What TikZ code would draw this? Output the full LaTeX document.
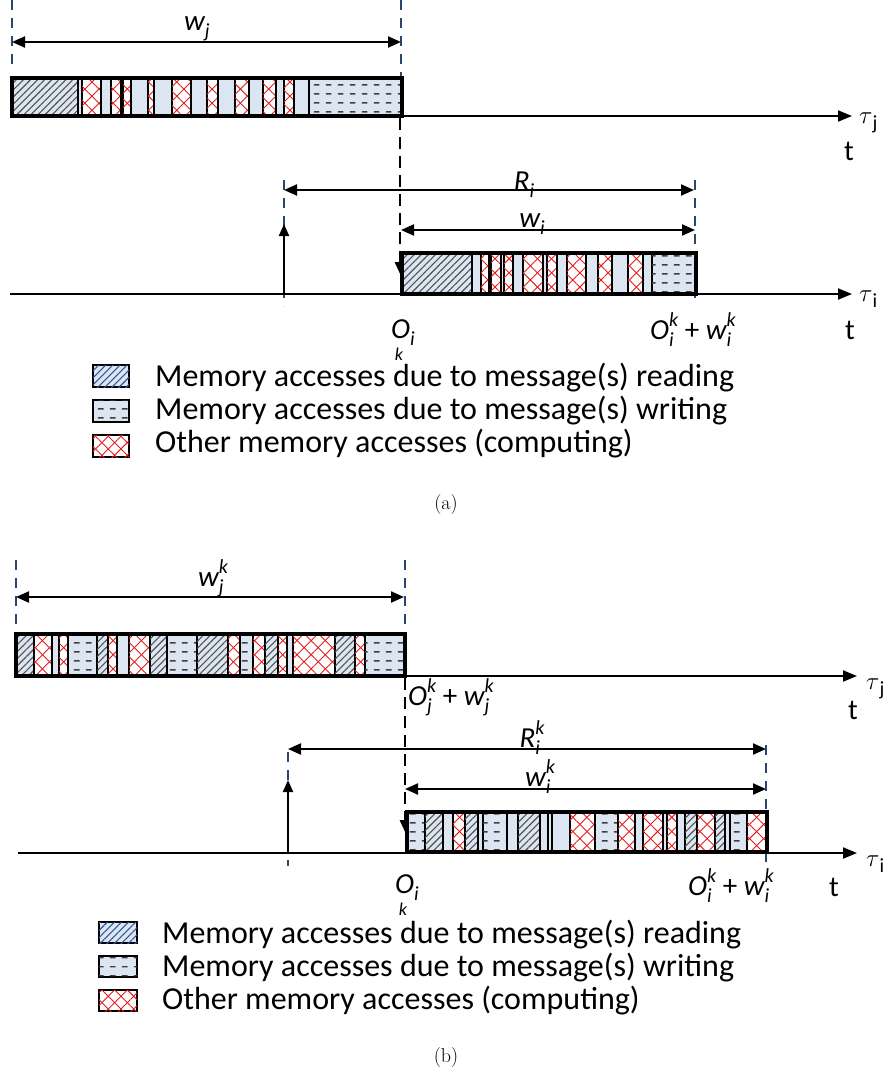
\documentclass[tikz,border=0pt]{standalone}
\usepackage{fontspec}
\newfontfamily\calib{Carlito}
\usetikzlibrary{arrows.meta,patterns,patterns.meta}
\definecolor{lb}{RGB}{220,230,242}
\definecolor{tickblue}{RGB}{40,70,110}
\definecolor{hatchgray}{RGB}{80,80,80}
\definecolor{hatchblue}{RGB}{47,85,151}
\definecolor{xred}{RGB}{225,30,30}
\tikzdeclarepattern{name=hdash, type=uncolored,
  bounding box={(0pt,0pt) and (12pt,9pt)}, tile size={(12pt,9pt)},
  code={\pgfsetlinewidth{1.5pt}\pgfpathmoveto{\pgfpoint{2pt}{4.5pt}}\pgfpathlineto{\pgfpoint{8pt}{4.5pt}}\pgfusepath{stroke}}}
\newcommand{\scr}{\fontsize{20}{20}\selectfont}
\newcommand{\sbsp}[3]{#1\makebox[0pt][l]{\raisebox{-0.26em}{\scr #3}}\raisebox{0.42em}{\scr #2}}
\newcommand{\sbonly}[2]{#1\raisebox{-0.26em}{\scr #2}}
\newcommand{\taulab}[1]{{\fontsize{32}{32}\selectfont$\tau$}\raisebox{-0.22em}{\scr #1}}
\newcommand{\membar}[3]{\foreach \a/\b/\t in {#3}{\draw[seg\t] (\a,#1) rectangle (\b,#2);}}
\tikzset{
  segB/.style={draw=black,line width=1.5pt,fill=lb},
  segR/.style={draw=black,line width=1.5pt,fill=lb,postaction={pattern={Lines[angle=45,distance=5pt,line width=1.1pt]},pattern color=hatchgray}},
  segW/.style={draw=black,line width=1.5pt,fill=lb,postaction={pattern=hdash,pattern color=black!75}},
  segO/.style={draw=black,line width=1.5pt,fill=white,postaction={pattern={Lines[angle=45,distance=10pt,line width=0.9pt]},pattern color=xred},postaction={pattern={Lines[angle=-45,distance=10pt,line width=0.9pt]},pattern color=xred}},
  legR/.style={draw=black,line width=1.8pt,fill=lb,postaction={pattern={Lines[angle=45,distance=5pt,line width=1.1pt]},pattern color=hatchblue}},
  legW/.style={draw=black,line width=1.8pt,fill=lb,postaction={pattern=hdash,pattern color=black!75}},
  legO/.style={draw=black,line width=1.8pt,fill=white,postaction={pattern={Lines[angle=45,distance=9pt,line width=0.9pt]},pattern color=xred},postaction={pattern={Lines[angle=-45,distance=9pt,line width=0.9pt]},pattern color=xred}},
  outer/.style={draw=black,line width=3.2pt},
  tick/.style={draw=tickblue,line width=1.8pt,dash pattern=on 10pt off 8pt},
  dline/.style={draw=black,line width=2.8pt,dash pattern=on 12pt off 7pt,-{Triangle[length=12pt,width=10pt]}},
  dim/.style={line width=2.2pt,{Triangle[length=13pt,width=11pt]}-{Triangle[length=13pt,width=11pt]}},
  axis/.style={line width=2pt,-{Triangle[length=14pt,width=11pt]}},
  uparr/.style={line width=2pt,-{Triangle[length=12pt,width=10pt]}},
  lab/.style={font=\calib\fontsize{29}{32}\selectfont,inner sep=0pt},
  klab/.style={font=\calib\itshape\fontsize{18}{18}\selectfont,inner sep=0pt},
  leg/.style={font=\calib\fontsize{32}{34}\selectfont,inner sep=0pt,anchor=west},
  captxt/.style={font=\fontsize{20}{22}\selectfont,inner sep=0pt}
}
\begin{document}
\begin{tikzpicture}[x=1pt,y=-1pt]
\useasboundingbox[fill=white] (0,0) rectangle (892,1079);
%%%%%%%%%%%%%%%%%%%%%%% (a)
\draw[tick] (12,0) -- (12,68);
\draw[tick] (401,0) -- (401,116);
\draw[tick] (284,180) -- (284,306);
\draw[tick] (695,180) -- (695,302);
\coordinate (aWjL) at (12,42); \coordinate (aWjR) at (401,42);
\draw[dim] (aWjL) -- (aWjR);
\node[lab,anchor=base] (aWj) at (197,30) {\itshape\sbonly{w}{j}};
\membar{78}{116}{12/78/R,78/82/B,82/101/O,101/111/B,111/121/O,121/123/B,123/131/O,131/148/B,148/154/O,154/172/B,172/191/O,191/207/B,207/218/O,218/235/B,235/249/O,249/263/B,263/276/O,276/284/B,284/294/O,294/309/B,309/402/W}
\draw[outer] (12,78) rectangle (402,116);
\coordinate (aJs) at (402,116); \coordinate (aJe) at (852,116);
\draw[axis] (aJs) -- (aJe);
\node[lab,anchor=base west] (aTj) at (859,123) {\taulab{j}};
\node[lab,anchor=base] (aT1) at (849,160) {t};
\coordinate (aDs) at (400,118); \coordinate (aDe) at (400,274);
\draw[dline] (aDs) -- (aDe);
\coordinate (aRL) at (284,190); \coordinate (aRR) at (694,190);
\draw[dim] (aRL) -- (aRR);
\node[lab,anchor=base] (aRi) at (524,190) {\itshape\sbonly{R}{i}};
\coordinate (aWiL) at (401,230); \coordinate (aWiR) at (695,230);
\draw[dim] (aWiL) -- (aWiR);
\node[lab,anchor=base] (aWi) at (532,227) {\itshape\sbonly{w}{i}};
\coordinate (aUs) at (284,294); \coordinate (aUe) at (284,224);
\draw[uparr] (aUs) -- (aUe);
\membar{253}{294}{402/472/R,472/481/B,481/489/O,489/491/B,491/501/O,501/504/B,504/513/O,513/523/B,523/543/O,543/547/B,547/557/O,557/567/B,567/586/O,586/598/B,598/612/O,612/628/B,628/643/O,643/652/B,652/696/W}
\draw[outer] (402,253) rectangle (696,294);
\coordinate (aIs) at (10,294); \coordinate (aIe) at (852,294);
\draw[axis] (aIs) -- (aIe);
\node[lab,anchor=base west] (aTi) at (859,301) {\taulab{i}};
\node[lab,anchor=base] (aT2) at (850,339) {t};
\node[lab,anchor=base west] (aO) at (391,338) {\itshape\sbonly{O}{i}};
\node[klab] (aK) at (399,354) {k};
\node[lab,anchor=base west] (aOw) at (650,339) {\itshape\sbsp{O}{k}{i}\upshape\ +\ \itshape\sbsp{w}{k}{i}};
\draw[legR] (93,365) rectangle (129,387);
\draw[legW] (93,400) rectangle (129,422);
\draw[legO] (93,435) rectangle (129,457);
\node[leg] (aL1) at (155,378) {Memory accesses due to message(s) reading};
\node[leg] (aL2) at (155,411) {Memory accesses due to message(s) writing};
\node[leg] (aL3) at (155,444) {Other memory accesses (computing)};
\node[captxt] (capA) at (446,505) {(a)};
%%%%%%%%%%%%%%%%%%%%%%% (b)
\draw[tick] (16,560) -- (16,630);
\draw[tick] (405,560) -- (405,676);
\draw[tick] (288,752) -- (288,866);
\draw[tick] (766,745) -- (766,862);
\coordinate (bWjL) at (16,597); \coordinate (bWjR) at (404,597);
\draw[dim] (bWjL) -- (bWjR);
\node[lab,anchor=base] (bWj) at (213,586) {\itshape\sbsp{w}{k}{j}};
\membar{634}{676}{16/34/R,34/52/O,52/59/B,59/68/O,68/97/W,97/108/R,108/117/O,117/129/B,129/150/O,150/167/R,167/197/W,197/228/R,228/240/O,240/253/W,253/265/O,265/278/R,278/287/O,287/293/B,293/335/O,335/355/R,355/365/O,365/405/W}
\draw[outer] (16,634) rectangle (405,676);
\coordinate (bJs) at (405,676); \coordinate (bJe) at (857,676);
\draw[axis] (bJs) -- (bJe);
\node[lab,anchor=base west] (bTj) at (866,689) {\taulab{j}};
\node[lab,anchor=base] (bT1) at (853,719) {t};
\node[lab,anchor=base west] (bOw1) at (408,705) {\itshape\sbsp{O}{k}{j}\upshape\ +\ \itshape\sbsp{w}{k}{j}};
\coordinate (bDs) at (405,678); \coordinate (bDe) at (405,832);
\draw[dline] (bDs) -- (bDe);
\coordinate (bRL) at (288,749); \coordinate (bRR) at (766,749);
\draw[dim] (bRL) -- (bRR);
\node[lab,anchor=base] (bRi) at (532,747) {\itshape\sbsp{R}{k}{i}};
\coordinate (bWiL) at (405,789); \coordinate (bWiR) at (766,789);
\draw[dim] (bWiL) -- (bWiR);
\node[lab,anchor=base] (bWi) at (540,786) {\itshape\sbsp{w}{k}{i}};
\coordinate (bUs) at (288,853); \coordinate (bUe) at (288,780);
\draw[uparr] (bUs) -- (bUe);
\membar{812}{852}{407/425/W,425/443/R,443/453/B,453/465/O,465/478/R,478/483/B,483/507/W,507/518/B,518/540/R,540/548/B,548/552/B,552/570/B,570/595/O,595/618/W,618/635/O,635/643/B,643/663/O,663/667/B,667/677/O,677/685/B,685/697/R,697/715/O,715/725/R,725/730/B,730/747/W,747/767/O}
\draw[outer] (407,812) rectangle (767,852);
\coordinate (bIs) at (18,853); \coordinate (bIe) at (857,853);
\draw[axis] (bIs) -- (bIe);
\node[lab,anchor=base west] (bTi) at (866,866) {\taulab{i}};
\node[lab,anchor=base] (bT2) at (834,896) {t};
\node[lab,anchor=base west] (bO) at (395,893) {\itshape\sbonly{O}{i}};
\node[klab] (bK) at (403,909) {k};
\node[lab,anchor=base west] (bOw) at (688,895) {\itshape\sbsp{O}{k}{i}\upshape\ +\ \itshape\sbsp{w}{k}{i}};
\draw[legR] (99,922) rectangle (137,943);
\draw[legW] (99,956) rectangle (137,977);
\draw[legO] (99,990) rectangle (137,1011);
\node[leg] (bL1) at (162,935) {Memory accesses due to message(s) reading};
\node[leg] (bL2) at (162,968) {Memory accesses due to message(s) writing};
\node[leg] (bL3) at (162,1001) {Other memory accesses (computing)};
\node[captxt] (capB) at (446,1057) {(b)};
\end{tikzpicture}
\end{document}
